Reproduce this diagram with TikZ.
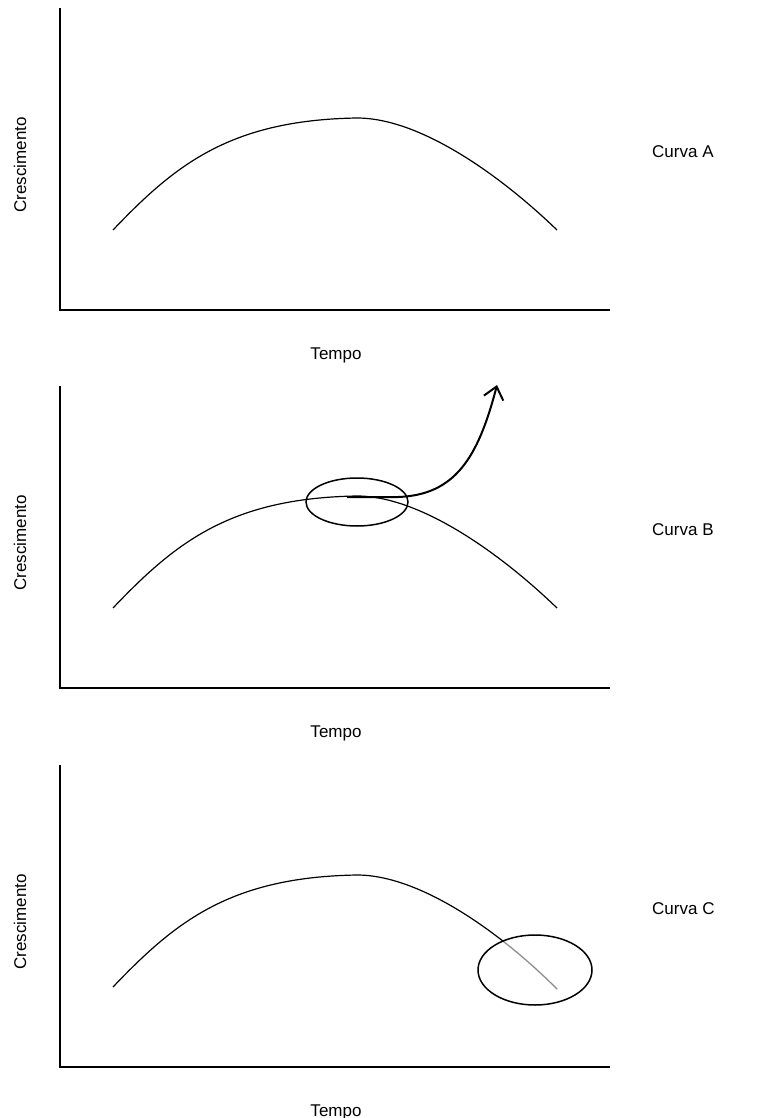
\documentclass[tikz,border=0pt]{standalone}
\usepackage{fontspec}
\setmainfont{Liberation Sans}
\usepackage{tikz}
\usetikzlibrary{arrows.meta, positioning}

\begin{document}
\begin{tikzpicture}[x=1pt, y=-1pt,
  lbl/.style={font=\fontsize{17}{20}\selectfont, inner sep=0pt},
  axis/.style={line width=1.4pt},
  curve/.style={line width=1.2pt},
  ring/.style={line width=1.5pt}]
\useasboundingbox (0,0) rectangle (782,1118);

% curva A
\begin{scope}
\draw[axis] (60,8) -- (60,310) -- (610,310);
\draw[curve] (113,230) .. controls (175,165) and (230,120) .. (357,118) .. controls (420,118) and (500,175) .. (557,230);
\node[lbl, rotate=90] (yA) at (20,165) {Crescimento};
\node[lbl] (xA) at (336,355) {Tempo};
\node[lbl, anchor=west] (cA) at (652,152) {Curva A};
\end{scope}

% curva B
\begin{scope}[shift={(0,378)}]
\draw[axis] (60,8) -- (60,310) -- (610,310);
\draw[curve] (113,230) .. controls (175,165) and (230,120) .. (357,118) .. controls (420,118) and (500,175) .. (557,230);
\draw[ring] (357,124) ellipse [x radius=51pt, y radius=24pt];
\draw[line width=2pt, -{Straight Barb[length=12pt, width=20pt]}] (347,119) -- (398,119) .. controls (455,117) and (478,80) .. (497,7);
\node[lbl, rotate=90] (yB) at (20,165) {Crescimento};
\node[lbl] (xB) at (336,355) {Tempo};
\node[lbl, anchor=west] (cB) at (652,152) {Curva B};
\end{scope}

% curva C
\begin{scope}[shift={(0,757)}]
\draw[axis] (60,8) -- (60,310) -- (610,310);
\draw[curve] (113,230) .. controls (175,165) and (230,120) .. (357,118) .. controls (420,118) and (500,175) .. (557,232);
\begin{scope}
\clip (535,213) ellipse [x radius=57pt, y radius=35pt];
\draw[curve, white, line width=2pt] (357,118) .. controls (420,118) and (500,175) .. (557,232);
\draw[curve, black!45] (357,118) .. controls (420,118) and (500,175) .. (557,232);
\end{scope}
\draw[ring] (535,213) ellipse [x radius=57pt, y radius=35pt];
\node[lbl, rotate=90] (yC) at (20,165) {Crescimento};
\node[lbl] (xC) at (336,355) {Tempo};
\node[lbl, anchor=west] (cC) at (652,152) {Curva C};
\end{scope}
\end{tikzpicture}
\end{document}
